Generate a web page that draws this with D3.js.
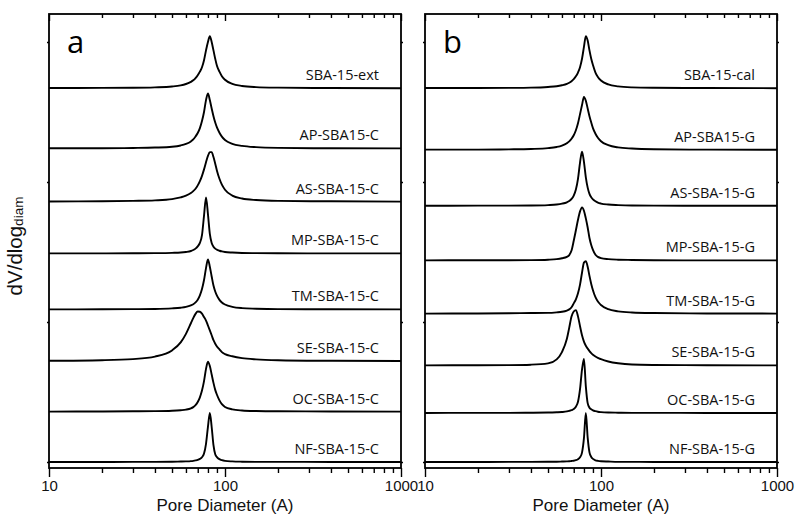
<!DOCTYPE html>
<html>
<head>
<meta charset="utf-8">
<script src="https://cdn.jsdelivr.net/npm/d3@7"></script>
<style>
  html, body { margin: 0; padding: 0; background: #fff; }
  svg { display: block; }
</style>
</head>
<body>
<svg id="chart" width="795" height="515"></svg>
<script>
// Pore diameter grid (Å) shared by every distribution curve
const diameters = [10, 20, 30, 40, 50, 56, 60, 64, 66, 68, 70, 72, 74, 76, 78, 80, 82, 84, 86, 88, 90, 93, 96, 100, 110, 125, 150, 200, 400, 1000];

// Panel a: extracted SBA-15 and the -C series
const namesA = ["SBA-15-ext", "AP-SBA15-C", "AS-SBA-15-C", "MP-SBA-15-C", "TM-SBA-15-C", "SE-SBA-15-C", "OC-SBA-15-C", "NF-SBA-15-C"];
const offsetsA = [267, 224, 186, 149, 109, 72, 36, 0];
const sba15Ext = [0.1, 0.2, 0.3, 0.6, 1.2, 2.0, 3.0, 4.5, 5.6, 7.2, 9.3, 11.8, 15.0, 20.0, 27.0, 33.0, 37.1, 33.0, 27.0, 21.0, 16.0, 11.8, 8.6, 6.0, 3.1, 1.6, 0.8, 0.4, 0.1, 0];
const apSba15C = [0.1, 0.1, 0.3, 0.6, 1.2, 2.1, 3.2, 5.0, 6.4, 8.5, 11.0, 14.5, 19.5, 26.0, 34.5, 39.3, 34.5, 28.5, 23.0, 18.5, 15.0, 11.2, 8.4, 6.0, 3.3, 1.8, 0.9, 0.4, 0.1, 0];
const asSba15C = [0.1, 0.2, 0.5, 0.9, 1.8, 3.0, 4.2, 6.1, 7.5, 9.2, 11.6, 14.6, 18.4, 23.0, 28.1, 32.6, 35.3, 35.3, 31.8, 27.1, 22.1, 16.3, 12.1, 8.5, 4.3, 2.2, 1.1, 0.5, 0.2, 0];
const mpSba15C = [0, 0, 0.1, 0.2, 0.4, 0.6, 1.0, 1.7, 2.4, 3.4, 5.0, 7.5, 13.0, 27.0, 40.0, 28.0, 14.0, 7.5, 4.8, 3.4, 2.6, 1.9, 1.4, 1.0, 0.6, 0.3, 0.2, 0.1, 0, 0];
const tmSba15C = [0, 0.1, 0.2, 0.3, 0.7, 1.2, 1.8, 2.9, 3.7, 5.0, 6.9, 10.0, 14.5, 21.0, 29.5, 35.7, 30.5, 23.5, 17.0, 12.8, 9.8, 6.8, 4.9, 3.5, 1.8, 0.9, 0.5, 0.2, 0.1, 0];
const seSba15C = [0.3, 0.7, 1.5, 3.3, 7.7, 13.4, 19.5, 27.1, 30.8, 33.8, 35.5, 35.3, 34.0, 31.5, 29.0, 25.5, 22.0, 18.5, 15.0, 12.5, 10.5, 8.5, 6.5, 5.0, 3.5, 2.2, 1.3, 0.7, 0.3, 0.1];
const ocSba15C = [0, 0.1, 0.2, 0.3, 0.6, 1.0, 1.4, 2.3, 3.2, 4.6, 6.8, 10.2, 15.0, 21.8, 30.5, 35.7, 32.5, 26.5, 20.5, 15.5, 12.0, 8.0, 5.3, 3.3, 1.6, 0.8, 0.4, 0.2, 0.1, 0];
const nfSba15C = [0, 0, 0.1, 0.1, 0.2, 0.3, 0.4, 0.6, 0.8, 1.1, 1.5, 2.2, 3.4, 6.0, 13.0, 25.0, 35.0, 25.0, 12.0, 5.5, 3.5, 2.0, 1.3, 0.8, 0.4, 0.2, 0.1, 0.1, 0, 0];

// Panel b: calcined SBA-15 and the -G series
const namesB = ["SBA-15-cal", "AP-SBA15-G", "AS-SBA-15-G", "MP-SBA-15-G", "TM-SBA-15-G", "SE-SBA-15-G", "OC-SBA-15-G", "NF-SBA-15-G"];
const offsetsB = [267, 223, 183, 144, 106, 69, 35, 0];
const sba15Cal = [0.1, 0.1, 0.2, 0.4, 0.9, 1.4, 2.1, 3.1, 3.9, 5.0, 6.5, 8.5, 11.2, 15.0, 21.0, 29.5, 37.2, 34.0, 27.0, 21.0, 16.5, 11.2, 8.0, 5.5, 2.7, 1.3, 0.6, 0.3, 0.1, 0];
const apSba15G = [0.1, 0.1, 0.3, 0.6, 1.2, 2.0, 3.0, 4.7, 6.0, 7.9, 10.4, 14.0, 19.0, 25.5, 32.0, 37.8, 35.0, 29.5, 24.0, 19.5, 15.5, 11.5, 8.6, 6.1, 3.3, 1.7, 0.9, 0.4, 0.1, 0];
const asSba15G = [0, 0.1, 0.1, 0.2, 0.5, 0.9, 1.5, 2.5, 3.4, 4.9, 7.3, 11.6, 19.3, 30.9, 38.6, 31.4, 20.3, 13.0, 8.5, 6.1, 4.6, 3.2, 2.3, 1.6, 0.9, 0.5, 0.2, 0.1, 0, 0];
const mpSba15G = [0, 0.1, 0.1, 0.2, 0.5, 0.9, 1.5, 2.5, 3.8, 7.0, 14.0, 21.5, 29.0, 35.0, 37.9, 35.5, 30.0, 23.5, 16.0, 11.0, 7.5, 4.0, 2.5, 1.6, 0.9, 0.5, 0.3, 0.1, 0, 0];
const tmSba15G = [0, 0.1, 0.2, 0.4, 0.5, 0.9, 1.3, 2.2, 3.0, 4.5, 7.3, 10.2, 14.5, 20.7, 29.2, 36.4, 37.4, 33.4, 26.9, 21.2, 16.7, 11.7, 8.6, 6.1, 3.1, 1.6, 0.8, 0.4, 0.1, 0];
const seSba15G = [0, 0.1, 0.2, 0.5, 1.4, 4.3, 9.5, 19.0, 27.0, 35.0, 38.5, 39.5, 35.0, 28.0, 21.5, 17.0, 14.0, 12.0, 10.2, 8.8, 7.6, 6.3, 5.3, 4.4, 2.8, 1.5, 0.6, 0.3, 0.1, 0];
const ocSba15G = [0, 0.1, 0.1, 0.2, 0.3, 0.5, 0.7, 1.1, 1.5, 2.0, 2.8, 4.5, 8.0, 17.0, 31.0, 38.6, 19.0, 7.0, 3.8, 2.6, 1.9, 1.3, 0.9, 0.6, 0.3, 0.2, 0.1, 0.1, 0, 0];
const nfSba15G = [0, 0, 0.1, 0.1, 0.15, 0.2, 0.3, 0.4, 0.5, 0.7, 0.9, 1.3, 2.0, 3.3, 6.7, 17.0, 35.0, 17.4, 6.9, 3.6, 2.2, 1.2, 0.8, 0.5, 0.3, 0.1, 0.1, 0, 0, 0];

// Axis ticks
const xMajorTicks = [10, 100, 1000];
const xMinorTicks = [20, 30, 40, 50, 60, 70, 80, 90, 200, 300, 400, 500, 600, 700, 800, 900];
const yTicks = [0, 100, 200, 300];

const svg = d3.select("#chart");
const plotTop = 14, plotBottom = 468;
const y = d3.scaleLinear().domain([-4.3, 320]).range([plotBottom, plotTop]);

const panels = [
  { letter: "a", left: 49, right: 401, names: namesA, offsets: offsetsA,
    series: [sba15Ext, apSba15C, asSba15C, mpSba15C, tmSba15C, seSba15C, ocSba15C, nfSba15C] },
  { letter: "b", left: 425, right: 777, names: namesB, offsets: offsetsB,
    series: [sba15Cal, apSba15G, asSba15G, mpSba15G, tmSba15G, seSba15G, ocSba15G, nfSba15G] }
];

const sansSerif = "'Liberation Sans', Arial, sans-serif";
const labelFont = "'Open Sans', sans-serif";

panels.forEach(p => {
  const x = d3.scaleLog().domain([10, 1000]).range([p.left, p.right]);
  const g = svg.append("g");

  const line = d3.line()
    .x(d => x(d[0]))
    .y(d => y(d[1]))
    .curve(d3.curveMonotoneX);

  p.series.forEach((vals, i) => {
    const pts = diameters.map((d, j) => [d, p.offsets[i] + vals[j]]);
    g.append("path")
      .attr("d", line(pts))
      .attr("fill", "none")
      .attr("stroke", "#000")
      .attr("stroke-width", 1.9)
      .attr("stroke-linejoin", "round");
    g.append("text")
      .attr("x", p.right - 22)
      .attr("y", y(p.offsets[i]) - 8)
      .attr("text-anchor", "end")
      .attr("font-family", labelFont)
      .attr("font-size", 14.5)
      .attr("fill", "#111")
      .text(p.names[i]);
  });

  // Bottom axis: outward ticks with labels
  const bAxis = g.append("g").attr("transform", `translate(0,${plotBottom})`)
    .call(d3.axisBottom(x).tickValues(xMajorTicks).tickSize(9).tickFormat(d3.format("d")));
  bAxis.append("g").call(d3.axisBottom(x).tickValues(xMinorTicks).tickSize(5).tickFormat(""));
  // Top axis: inward ticks
  const tAxis = g.append("g").attr("transform", `translate(0,${plotTop})`)
    .call(d3.axisTop(x).tickValues(xMajorTicks).tickSize(-7).tickFormat(""));
  tAxis.append("g").call(d3.axisTop(x).tickValues(xMinorTicks).tickSize(-4).tickFormat(""));
  // Left / right axes: short unlabeled ticks
  const lAxis = g.append("g").attr("transform", `translate(${p.left},0)`)
    .call(d3.axisLeft(y).tickValues(yTicks).tickSize(2).tickFormat(""));
  const rAxis = g.append("g").attr("transform", `translate(${p.right},0)`)
    .call(d3.axisRight(y).tickValues(yTicks).tickSize(2).tickFormat(""));

  [bAxis, tAxis, lAxis, rAxis].forEach(a => {
    a.selectAll(".domain").remove();
    a.selectAll("line").attr("stroke", "#000").attr("stroke-width", 1.4);
  });
  bAxis.selectAll("text")
    .attr("font-family", sansSerif)
    .attr("font-size", 15)
    .attr("fill", "#111")
    .attr("dy", "0.71em");

  // Frame
  g.append("rect")
    .attr("x", p.left).attr("y", plotTop)
    .attr("width", p.right - p.left).attr("height", plotBottom - plotTop)
    .attr("fill", "none").attr("stroke", "#000").attr("stroke-width", 1.8);

  // Panel letter
  g.append("text")
    .attr("x", p.left + 18).attr("y", 53)
    .attr("font-family", labelFont)
    .attr("font-size", 31)
    .attr("fill", "#000")
    .text(p.letter);

  // Axis title
  g.append("text")
    .attr("x", x(100)).attr("y", 511)
    .attr("text-anchor", "middle")
    .attr("font-family", sansSerif)
    .attr("font-size", 17)
    .attr("fill", "#111")
    .text("Pore Diameter (A)");
});

// Y-axis title with subscript
const yTitle = svg.append("text")
  .attr("transform", "translate(22,246) rotate(-90)")
  .attr("text-anchor", "middle")
  .attr("font-family", sansSerif)
  .attr("font-size", 20.5)
  .attr("fill", "#111");
yTitle.append("tspan").text("dV/dlog");
yTitle.append("tspan").attr("font-size", 13.5).attr("dy", 1).text("diam");
</script>
</body>
</html>
